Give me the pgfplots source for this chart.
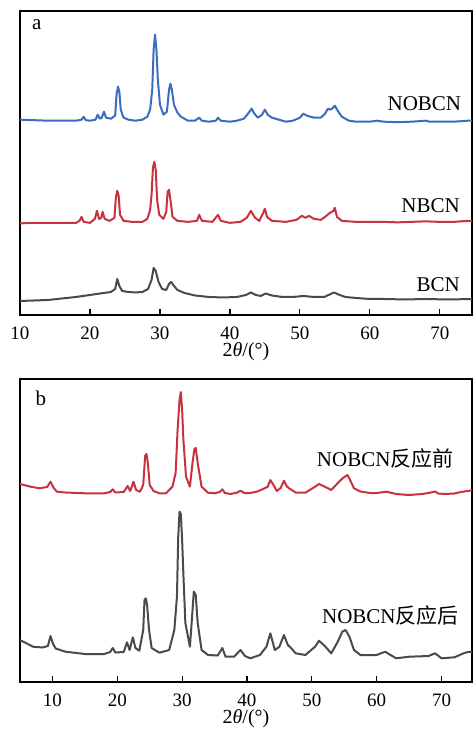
\documentclass[border=0pt]{standalone}
\usepackage{fontspec}
\setmainfont{Liberation Serif}
\newfontfamily\cjk{Noto Sans CJK SC}
\usepackage{pgfplots}
\pgfplotsset{compat=1.18}
\definecolor{cblue}{RGB}{58,108,192}
\definecolor{cred}{RGB}{200,50,62}
\definecolor{cgray}{RGB}{74,74,74}
\tikzset{
  xrd/.style={line width=1pt, line join=round},
  lab/.style={font=\fontsize{10.5}{12}\selectfont, anchor=east, inner sep=0pt},
}
\pgfplotsset{
  xrdaxis/.style={
    scale only axis, width=226pt,
    axis line style={line width=0.6pt},
    tick align=inside, xtick pos=bottom, ytick=\empty,
    major tick length=3pt, major tick style={line width=0.6pt,black},
    /pgf/number format/assume math mode=true,
    ticklabel style={font=\fontsize{9.5}{10}\selectfont},
    xticklabel shift=2.2pt,
    xlabel={2\textit{θ}/(°)},
    every axis x label/.style={at={(axis description cs:0.5,0)},anchor=center,yshift=-18.3pt,font=\fontsize{10}{11}\selectfont},
    clip=true,
  },
}
\begin{document}
\begin{tikzpicture}
\useasboundingbox (0,0) rectangle (236.5pt,-364.5pt);
% ---------- panel a
\begin{axis}[xrdaxis, at={(10pt,-157.5pt)}, anchor=south west, height=152pt,
  xmin=10, xmax=74.6, ymin=-315, ymax=-11.5, xtick={10,20,...,70}]
\addplot[xrd, no marks, cblue] coordinates {
(9.7,-120) (10,-120) (12,-120.5) (14,-121) (16,-121) (18,-121) (18.8,-120) (19.1,-117) (19.4,-120.5) (20,-121)
(20.8,-120) (21.1,-115) (21.4,-119) (21.7,-118) (22,-112) (22.3,-118) (23,-119) (23.6,-116) (23.8,-95) (24,-87)
(24.2,-92) (24.4,-110) (24.8,-118) (25.5,-120) (26.5,-121) (27.5,-120) (28.2,-117) (28.6,-110) (28.9,-90) (29.1,-50)
(29.3,-35) (29.5,-50) (29.7,-80) (30,-105) (30.5,-115) (31,-112) (31.3,-90) (31.5,-84) (31.7,-90) (32,-105)
(32.5,-113) (33,-117) (34,-121) (35,-121) (35.6,-118) (36,-121) (37,-122) (38,-121) (38.3,-118) (38.7,-121)
(40,-122) (41,-121) (42,-119) (42.7,-113) (43.1,-109) (43.5,-114) (44,-118) (44.6,-115) (45,-110) (45.4,-115)
(46,-118) (47,-120) (48,-122) (49,-121) (50,-118) (50.5,-114) (51,-116) (52,-118) (53,-118) (53.6,-114)
(54,-109) (54.3,-110) (54.6,-109) (55,-106) (55.4,-111) (56,-117) (57,-121) (58,-122) (60,-122) (61,-121)
(62,-122) (64,-122.5) (66,-122) (68,-121) (68.5,-122) (70,-122) (72,-122) (74,-121) (75,-121)
};
\addplot[xrd, no marks, cred] coordinates {
(9.7,-223.5) (10,-223.5) (12,-223) (14,-223) (16,-223) (18,-223) (18.5,-221) (18.8,-217) (19.1,-222) (20,-223)
(20.7,-219) (21,-211) (21.3,-219) (21.6,-218) (21.8,-212) (22.1,-219) (22.8,-221) (23.5,-218) (23.7,-198) (23.9,-191)
(24.1,-196) (24.3,-215) (24.8,-221) (26,-222) (27.5,-222) (28.2,-219) (28.6,-210) (28.8,-195) (29,-168) (29.2,-162)
(29.4,-170) (29.6,-200) (29.9,-215) (30.5,-219) (30.9,-212) (31.1,-192) (31.3,-190) (31.5,-200) (31.8,-217) (32.5,-221)
(34,-222) (35.3,-221) (35.6,-215) (36,-221) (37.5,-222) (38.3,-215) (38.7,-221) (40,-223) (41.5,-222) (42.4,-218)
(43,-211) (43.6,-218) (44.2,-221) (44.7,-214) (45,-209) (45.3,-217) (46,-221) (48,-222) (49.5,-220) (50.3,-216)
(50.8,-218) (51.3,-216) (52,-219) (53,-220) (53.6,-217) (54.3,-213) (54.8,-211) (55,-208) (55.3,-217) (56,-221)
(58,-222) (60,-222) (62,-222) (64,-222.5) (66,-222) (68,-221.5) (70,-222) (72,-222) (74,-221) (75,-221.5)
};
\addplot[xrd, no marks, cgray] coordinates {
(9.7,-301) (10,-301) (12,-300.5) (14,-300) (16,-298.5) (18,-297) (20,-295) (21,-294) (22,-293) (23,-292)
(23.6,-289) (23.9,-279) (24.2,-286) (24.6,-291) (25.5,-292) (26.5,-292.5) (27.5,-292) (28.3,-289) (28.8,-280) (29.1,-268)
(29.4,-271) (29.8,-282) (30.3,-289) (30.9,-290) (31.3,-284) (31.6,-282) (31.9,-285) (32.5,-290) (33.5,-293) (35,-295.5)
(37,-297) (39,-297.5) (41,-297) (42.3,-295) (43,-292.5) (43.7,-295) (44.4,-296) (45.1,-293.5) (46,-295.5) (47.5,-297)
(49,-297) (50.5,-296) (52,-297) (53.5,-297) (54.4,-294) (54.9,-292.5) (55.5,-294.5) (56.5,-297) (58,-298) (60,-299)
(62,-299) (65,-299.5) (68,-299) (71,-299.5) (75,-299)
};
\node[lab] at (axis cs:73.1,-104) {NOBCN};
\node[lab] at (axis cs:72.9,-206) {NBCN};
\node[lab] at (axis cs:72.9,-285) {BCN};
\node[font=\fontsize{10.5}{12}\selectfont] at (axis cs:12.4,-25) {a};
\end{axis}
% ---------- panel b
\begin{axis}[xrdaxis, at={(10pt,-341pt)}, anchor=south west, height=151.5pt,
  xmin=5, xmax=74.7, ymin=-682, ymax=-379, xtick={10,20,...,70}]
\addplot[xrd, no marks, cred] coordinates {
(4.8,-484) (5,-484) (6.5,-486.5) (8,-488.3) (9.2,-487) (9.7,-481.7) (10.2,-488) (10.7,-491.7) (12,-492.5) (15,-493.3)
(18,-493.3) (18.9,-492) (19.3,-489.3) (19.7,-492.5) (21,-492) (21.6,-486) (22,-491) (22.5,-481.7) (22.9,-490) (23.5,-491.7)
(24,-485) (24.3,-456) (24.5,-454) (24.7,-462) (25,-485) (25.6,-491) (26.5,-493.3) (27.5,-493.3) (28.5,-486.7) (29,-473)
(29.3,-430) (29.6,-400) (29.8,-392) (30,-410) (30.2,-440) (30.6,-476.7) (31.2,-486.7) (31.6,-463) (31.9,-449) (32.1,-448)
(32.4,-463) (33,-486.7) (34,-492.7) (35,-493.3) (35.8,-492) (36.2,-489.3) (36.6,-493) (37.5,-494) (38.5,-492.5) (39,-490.7)
(39.6,-493) (40.5,-493) (41.5,-491.7) (42.5,-489) (43.2,-486.7) (43.6,-480) (44,-484) (44.6,-491) (45.2,-488) (45.7,-480.7)
(46.1,-486) (46.5,-488.3) (47.5,-492.5) (49,-492.7) (50.5,-486.7) (51.1,-484) (52,-486.7) (53,-490) (54.2,-481.7) (54.8,-478)
(55.5,-475) (55.9,-480) (56.5,-488.3) (57.5,-491.5) (59,-493) (60,-493) (61.5,-491.7) (63,-494) (65,-495) (67,-494)
(68,-493) (69,-491.5) (69.5,-493.5) (70.5,-494) (72,-493.5) (73,-492) (74,-491) (75,-490)
};
\addplot[xrd, no marks, cgray] coordinates {
(4.8,-640) (5,-640) (7,-646.7) (8.5,-647.5) (9.3,-646) (9.7,-636) (10.1,-644) (10.5,-648.5) (12,-651.7) (15,-654)
(18,-654) (18.9,-652) (19.3,-648) (19.7,-652.5) (21,-652) (21.5,-642.3) (21.9,-650) (22.4,-637.3) (22.8,-648) (23.4,-650.7)
(24,-630) (24.2,-600) (24.4,-598.3) (24.6,-605) (24.9,-630) (25.3,-648) (26.5,-652.7) (28,-650) (28.8,-630) (29.2,-596.7)
(29.4,-536.7) (29.6,-511.7) (29.8,-514) (30,-540) (30.2,-575) (30.5,-623) (31.2,-646.7) (31.5,-620) (31.8,-591.7) (32.1,-595)
(32.4,-623) (33,-650) (34,-655) (35.5,-655.5) (36.2,-648) (36.7,-656.7) (38,-656.7) (39,-650) (39.7,-656) (40.5,-658.3)
(42,-655) (43,-646.7) (43.6,-633.3) (44.3,-650) (45,-646.7) (45.7,-635) (46.3,-645) (46.8,-648) (47.5,-653.3) (49,-655)
(50.5,-646.7) (51.1,-640.7) (52,-646) (53,-653.3) (54,-641.7) (54.7,-631.7) (55.2,-630) (55.8,-636.7) (56.5,-650) (57.5,-655)
(60,-655) (61.3,-651.7) (63,-658.3) (65,-656.7) (68,-656) (69,-653.3) (70,-658.3) (72,-657.3) (73.5,-653) (74.3,-651.7) (75,-653)
};
\node[lab] at (axis cs:71.9,-459) {NOBCN{\cjk 反应前}};
\node[lab] at (axis cs:72.7,-616) {NOBCN{\cjk 反应后}};
\node[font=\fontsize{10.5}{12}\selectfont] at (axis cs:8.2,-398) {b};
\end{axis}
\end{tikzpicture}
\end{document}
